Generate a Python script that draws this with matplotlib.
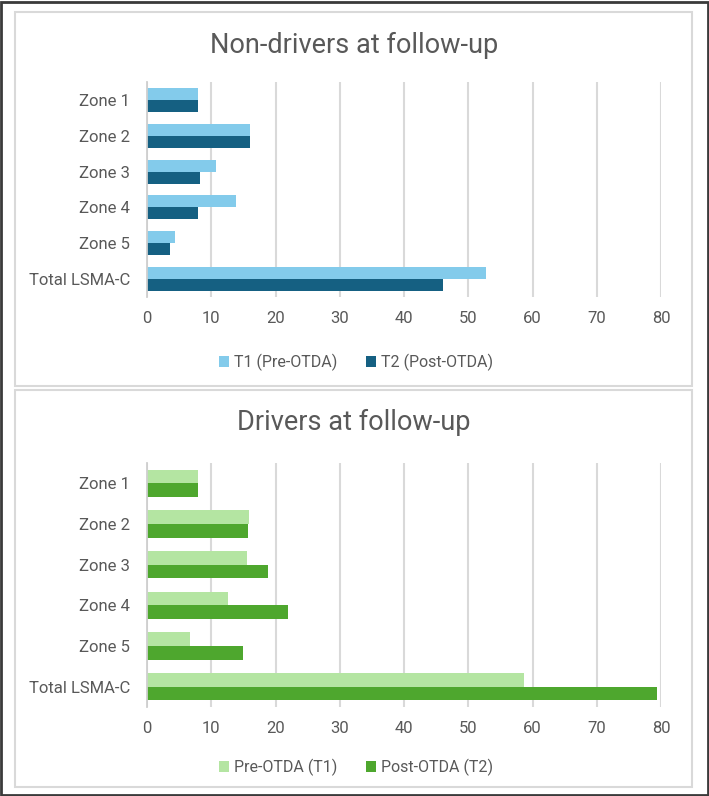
import matplotlib
matplotlib.use('Agg')
import matplotlib.pyplot as plt
import matplotlib.patches as mpatches
import numpy as np

# data
zones = ['Zone 1', 'Zone 2', 'Zone 3', 'Zone 4', 'Zone 5', 'Total LSMA-C']
nd_t1 = [8.0, 16.0, 10.7, 13.8, 4.3, 52.7]
nd_t2 = [8.0, 16.0, 8.2, 8.0, 3.6, 46.1]
dr_t1 = [8.0, 15.9, 15.5, 12.6, 6.7, 58.7]
dr_t2 = [8.0, 15.7, 18.8, 21.9, 15.0, 79.4]
xticks = [0, 10, 20, 30, 40, 50, 60, 70, 80]

plt.rcParams['font.family'] = ['Roboto', 'DejaVu Sans']
W, H = 709, 796
txt = '#595959'
grid = '#D9D9D9'

fig = plt.figure(figsize=(W/100, H/100), dpi=100)
fig.patch.set_facecolor('white')

def fx(px):
    return px / W

def fy(py):
    return 1 - py / H

def panel(top, bottom, ax_top, ax_bot, title, title_y, leg_y, t1, t2, c1, c2, lab1, lab2):
    # panel border
    fig.add_artist(mpatches.Rectangle((fx(15), fy(bottom)), fx(692 - 15), (bottom - top) / H,
                                      transform=fig.transFigure, fill=False,
                                      edgecolor=grid, lw=1.5))
    ax = fig.add_axes([fx(147), fy(ax_bot), fx(661 - 147), (ax_bot - ax_top) / H])
    h = 0.335
    y = np.arange(len(zones))
    b1 = ax.barh(y - h/2, t1, height=h, color=c1, label=lab1, zorder=3)
    b2 = ax.barh(y + h/2, t2, height=h, color=c2, label=lab2, zorder=3)
    ax.set_ylim(len(zones) - 0.5, -0.5)
    ax.set_yticks(y)
    ax.set_yticklabels(zones)
    ax.set_xlim(0, 80)
    ax.set_xticks(xticks)
    ax.grid(axis='x', color=grid, lw=1.5, zorder=0)
    for s in ['top', 'right', 'bottom']:
        ax.spines[s].set_visible(False)
    ax.spines['left'].set_color('#CFCFCF')
    ax.spines['left'].set_linewidth(1.3)
    ax.spines['left'].set_zorder(4)
    ax.tick_params(axis='x', length=0, pad=10, labelsize=12, labelcolor=txt)
    ax.tick_params(axis='y', length=0, pad=12, labelsize=12, labelcolor=txt)
    fig.text(fx(354), fy(title_y), title, ha='center', va='center', fontsize=19.5, color=txt)
    ax.legend(handles=[b1, b2], loc='center', bbox_to_anchor=(fx(356), fy(leg_y)),
              bbox_transform=fig.transFigure, ncol=2, frameon=False, fontsize=11.5,
              labelcolor=txt, handlelength=0.65, handleheight=0.65, handletextpad=0.3,
              columnspacing=1.8)
    return ax

panel(12, 386, 82, 297, 'Non-drivers at follow-up', 45, 362,
      nd_t1, nd_t2, '#83CBEB', '#156082', 'T1 (Pre-OTDA)', 'T2 (Post-OTDA)')
panel(390, 787, 463, 707, 'Drivers at follow-up', 422, 767,
      dr_t1, dr_t2, '#B4E5A2', '#4EA72E', 'Pre-OTDA (T1)', 'Post-OTDA (T2)')

# outer frame
fig.add_artist(mpatches.Rectangle((0.001, 0.001), 0.997, 0.997, transform=fig.transFigure,
                                  fill=False, edgecolor='#3A3A3A', lw=2))

fig.savefig('out.png', dpi=100)
